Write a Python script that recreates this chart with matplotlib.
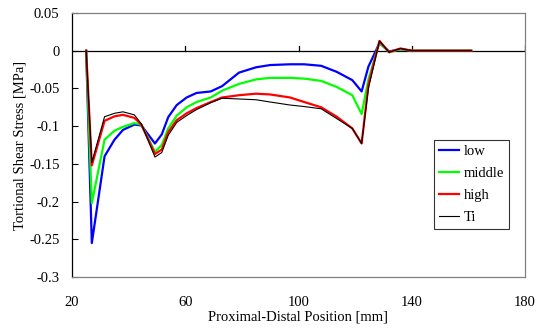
import numpy as np
import matplotlib.pyplot as plt

# Data
position = [25, 27, 31.5, 35, 38, 42, 44.5, 49.3, 51.7, 54, 57, 60.5, 64, 69, 73, 79,
            85, 90, 97, 102, 108, 113.5, 119, 122.3, 124.7, 128.6, 132, 136, 140, 150, 161]
low = [0, -0.255, -0.140, -0.118, -0.105, -0.098, -0.099, -0.123, -0.111, -0.088, -0.072,
       -0.062, -0.056, -0.054, -0.047, -0.029, -0.022, -0.019, -0.018, -0.018, -0.020,
       -0.028, -0.039, -0.054, -0.021, 0.010, -0.001, 0.002, 0, 0, 0]
middle = [0, -0.202, -0.118, -0.106, -0.101, -0.096, -0.098, -0.134, -0.125, -0.103, -0.086,
          -0.075, -0.068, -0.062, -0.053, -0.044, -0.038, -0.036, -0.036, -0.037, -0.040,
          -0.048, -0.059, -0.084, -0.038, 0.011, -0.002, 0.002, 0, 0, 0]
high = [0, -0.152, -0.093, -0.087, -0.085, -0.089, -0.098, -0.137, -0.131, -0.108, -0.092,
        -0.083, -0.076, -0.068, -0.062, -0.059, -0.057, -0.058, -0.062, -0.068, -0.075,
        -0.0875, -0.103, -0.123, -0.045, 0.013, -0.002, 0.003, 0, 0, 0]
ti = [0, -0.148, -0.0875, -0.083, -0.081, -0.085, -0.097, -0.141, -0.135, -0.112, -0.095,
      -0.086, -0.078, -0.069, -0.063, -0.064, -0.065, -0.068, -0.072, -0.074, -0.077,
      -0.090, -0.103, -0.123, -0.050, 0.013, -0.002, 0.003, 0, 0, 0]

xticks = [20, 60, 100, 140, 180]
yticks = [0.05, 0, -0.05, -0.1, -0.15, -0.2, -0.25, -0.3]

plt.rcParams['font.family'] = ['Liberation Serif', 'DejaVu Serif']
fs = 10.5

fig = plt.figure(figsize=(5.37, 3.30), dpi=100)
ax = fig.add_axes([72/537, 1-277/330, 453/537, 264/330])

ax.plot(position, low, color='#0000ff', lw=1.6, label='low')
ax.plot(position, middle, color='#00ff00', lw=1.6, label='middle')
ax.plot(position, high, color='#ff0000', lw=1.6, label='high')
ax.plot(position, ti, color='black', lw=0.8, label='Ti')

ax.set_xlim(20, 180)
ax.set_ylim(-0.3, 0.05)
ax.set_yticks(yticks)
ax.set_yticklabels(['0.05', '0', '-0.05', '-0.1', '-0.15', '-0.2', '-0.25', '-0.3'])
ax.set_xticks(xticks)
ax.set_xticklabels([str(t) for t in xticks])

# x axis crosses at zero, labels stay at the bottom
ax.axhline(0, color='black', lw=0.9, zorder=1)
for t in xticks[1:]:
    ax.plot([t, t], [0, 0.006], color='black', lw=0.9, zorder=1)
ax.tick_params(axis='x', length=0, pad=14, labelsize=fs)
ax.tick_params(axis='y', direction='in', length=4, labelsize=fs, pad=9)

for s in ['top', 'right', 'bottom']:
    ax.spines[s].set_color('#808080')
    ax.spines[s].set_linewidth(0.9)
ax.spines['left'].set_color('black')
ax.spines['left'].set_linewidth(0.9)

ax.set_xlabel('Proximal-Distal Position [mm]', fontsize=fs, labelpad=1)
ax.set_ylabel('Tortional Shear Stress [MPa]', fontsize=fs, labelpad=2)

leg = ax.legend(loc='lower right', bbox_to_anchor=(0.965, 0.182), fontsize=fs,
                frameon=True, fancybox=False, handlelength=1.4, handletextpad=0.3,
                borderpad=0.35, labelspacing=0.6, borderaxespad=0)
leg.get_frame().set_edgecolor('black')
leg.get_frame().set_linewidth(0.8)

fig.savefig('out.png', dpi=100)
